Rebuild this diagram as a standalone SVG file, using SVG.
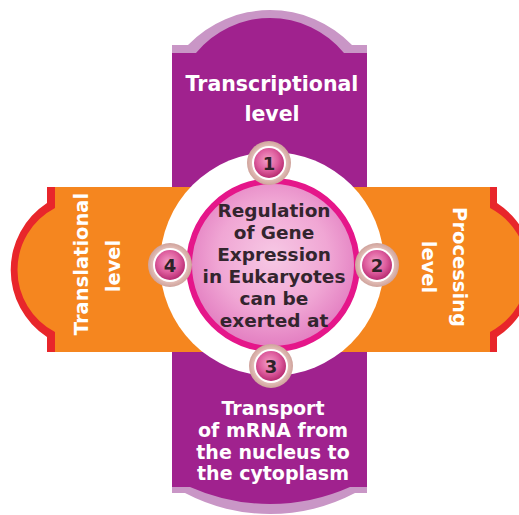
<svg xmlns="http://www.w3.org/2000/svg" width="519" height="515" viewBox="0 0 519 515">
  <defs>
    <radialGradient id="gCenter" cx="0.5" cy="0.45" r="0.55">
      <stop offset="0" stop-color="#f7c9e5"/>
      <stop offset="0.6" stop-color="#f0a6d4"/>
      <stop offset="1" stop-color="#e27cc0"/>
    </radialGradient>
    <radialGradient id="gBadge" cx="0.45" cy="0.4" r="0.6">
      <stop offset="0" stop-color="#f4a0c8"/>
      <stop offset="0.6" stop-color="#dd5c9d"/>
      <stop offset="1" stop-color="#b82c72"/>
    </radialGradient>
    <radialGradient id="gRing" cx="0.5" cy="0.5" r="0.5">
      <stop offset="0.7" stop-color="#e9c6c0"/>
      <stop offset="1" stop-color="#cfa39c"/>
    </radialGradient>
    <style>
      .lt { fill: #c996c6; }
      .pu { fill: #a0228e; }
      .or { fill: #f5861f; }
      .rd { fill: #e8262b; }
      .wt { font-family: "DejaVu Sans", "Liberation Sans", sans-serif; font-weight: bold; fill: #ffffff; text-anchor: middle; }
      .dk { font-family: "DejaVu Sans", "Liberation Sans", sans-serif; font-weight: bold; fill: #33252e; text-anchor: middle; }
      .num { font-family: "DejaVu Sans", "Liberation Sans", sans-serif; font-weight: bold; fill: #2f2228; text-anchor: middle; font-size: 18px; }
    </style>
    <g id="badge">
      <circle r="22" fill="url(#gRing)"/>
      <circle r="17" fill="#ffffff"/>
      <circle r="15" fill="url(#gBadge)"/>
    </g>
  </defs>

  <g id="arm-vertical">
    <path class="lt" d="M172,53 V45 H188 A113.6,113.6 0 0 1 352,45 H367 V53 Z"/>
    <path class="lt" d="M172,480 V493 H185 A182.5,182.5 0 0 0 355,493 H367 V480 Z"/>
    <path class="pu" d="M172,487 V53 H196 A95.7,95.7 0 0 1 344,53 H367 V487 H350 A196.7,196.7 0 0 1 190,487 Z"/>
  </g>

  <g id="arm-horizontal">
    <path class="rd" d="M56,187 H47 V203 A80,80 0 0 0 47,337 V352 H56 Z"/>
    <path class="rd" d="M489,187 H497 V203 A80,80 0 0 1 497,337 V352 H489 Z"/>
    <path class="or" d="M55,187 H490 V208 A70,70 0 0 1 490,332 V352 H55 V332 A70,70 0 0 1 55,208 Z"/>
  </g>

  <g id="hub">
    <circle cx="272" cy="264" r="112" fill="#ffffff"/>
    <circle cx="273" cy="265" r="84" fill="url(#gCenter)" stroke="#e5168a" stroke-width="6"/>
  </g>

  <g id="node-center">
    <text class="dk" font-size="18.5" x="274" y="217">Regulation</text>
    <text class="dk" font-size="18.5" x="274" y="239">of Gene</text>
    <text class="dk" font-size="18.5" x="274" y="261">Expression</text>
    <text class="dk" font-size="18.5" x="274" y="283">in Eukaryotes</text>
    <text class="dk" font-size="18.5" x="274" y="305">can be</text>
    <text class="dk" font-size="18.5" x="274" y="327">exerted at</text>
  </g>

  <g id="node-1">
    <use href="#badge" x="269" y="163"/>
    <text class="num" x="269" y="169.5">1</text>
  </g>
  <g id="node-2">
    <use href="#badge" x="377" y="265"/>
    <text class="num" x="377" y="271.5">2</text>
  </g>
  <g id="node-3">
    <use href="#badge" x="271" y="366"/>
    <text class="num" x="271" y="372.5">3</text>
  </g>
  <g id="node-4">
    <use href="#badge" x="170" y="265"/>
    <text class="num" x="170" y="271.5">4</text>
  </g>

  <g id="label-transcriptional">
    <text class="wt" font-size="20.5" x="272" y="91">Transcriptional</text>
    <text class="wt" font-size="20.5" x="272" y="121">level</text>
  </g>
  <g id="label-transport">
    <text class="wt" font-size="19" x="273" y="415">Transport</text>
    <text class="wt" font-size="19" x="273" y="437">of mRNA from</text>
    <text class="wt" font-size="19" x="273" y="459">the nucleus to</text>
    <text class="wt" font-size="19" x="273" y="480">the cytoplasm</text>
  </g>
  <g id="label-translational">
    <text class="wt" font-size="19.5" transform="translate(88,264) rotate(-90)">Translational</text>
    <text class="wt" font-size="19.5" transform="translate(120,266) rotate(-90)">level</text>
  </g>
  <g id="label-processing">
    <text class="wt" font-size="19.5" transform="translate(453,267) rotate(90)">Processing</text>
    <text class="wt" font-size="19.5" transform="translate(422,267) rotate(90)">level</text>
  </g>
</svg>
